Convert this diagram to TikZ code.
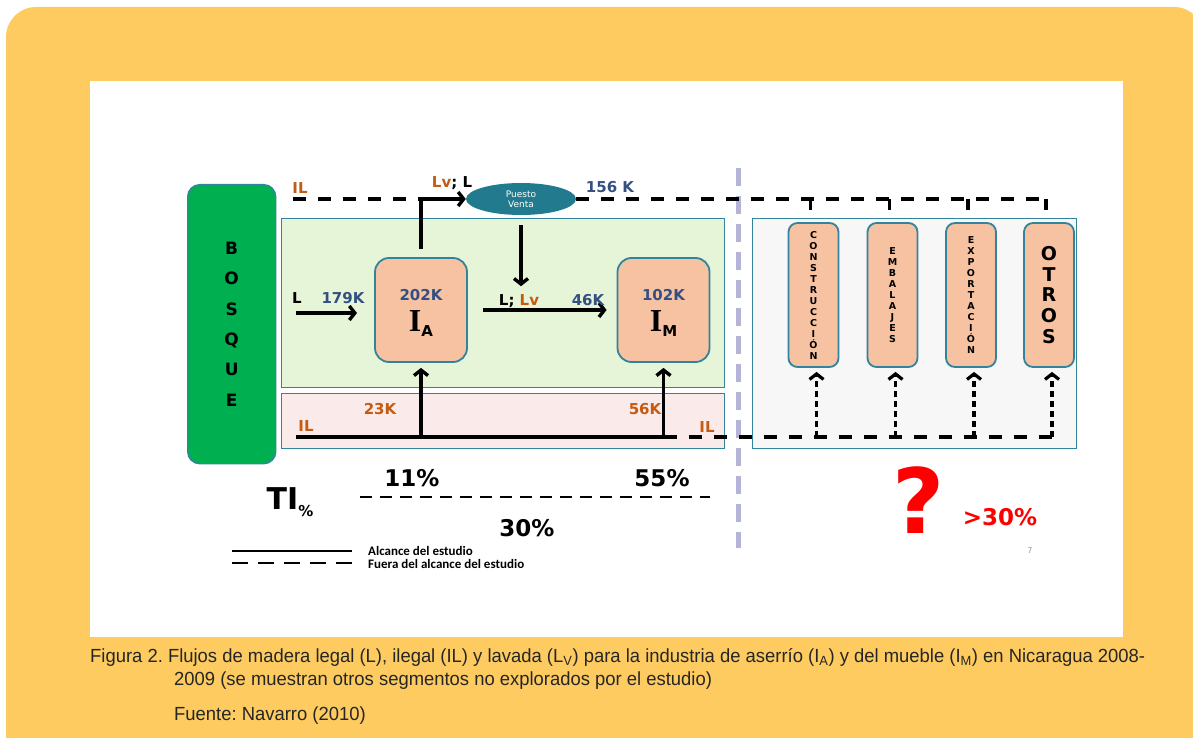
\documentclass[tikz,border=0pt]{standalone}
\usepackage{fontspec}
\setmainfont{DejaVu Sans}
\newfontfamily\serifbf{Liberation Serif}
\newfontfamily\legendfont{Carlito}
\newfontfamily\capfont[FakeStretch=0.97]{Liberation Sans}
\usetikzlibrary{arrows.meta, positioning, shapes.geometric}
\frenchspacing

\definecolor{frameyellow}{RGB}{253,203,95}
\definecolor{bosquegreen}{RGB}{0,176,80}
\definecolor{panelgreen}{RGB}{230,244,216}
\definecolor{panelpink}{RGB}{251,234,234}
\definecolor{panelgrey}{RGB}{247,247,247}
\definecolor{tealline}{RGB}{49,132,155}
\definecolor{peach}{RGB}{247,194,162}
\definecolor{ventateal}{RGB}{33,122,142}
\definecolor{numblue}{RGB}{52,80,130}
\definecolor{ilorange}{RGB}{197,90,17}
\definecolor{lavender}{RGB}{180,180,215}

\begin{document}
\begin{tikzpicture}[
    x=1pt, y=-1pt,
    >={Straight Barb[length=5.5pt, width=14pt]},
    font=\bfseries\fontsize{15}{18}\selectfont,
    panel/.style    ={draw=tealline, line width=1.4pt, anchor=north west, inner sep=0pt},
    industry/.style ={draw=tealline, line width=1.8pt, fill=peach, rounded corners=14pt,
                      minimum width=92pt, minimum height=104pt, inner sep=0pt},
    segment/.style  ={industry, minimum width=50pt, minimum height=144pt, align=center,
                      rounded corners=9pt, font=\bfseries\fontsize{9.5}{11}\selectfont},
    num/.style      ={text=numblue, inner sep=0pt},
    il/.style       ={text=ilorange, inner sep=0pt},
    pct/.style      ={inner sep=0pt, font=\bfseries\fontsize{23}{26}\selectfont},
    flow/.style     ={->, line width=3.4pt},
    legal/.style    ={line width=3.4pt},
    outflow/.style  ={line width=3.2pt, dash pattern=on 13pt off 12pt},
    useflow/.style  ={->, line width=3.2pt, dash pattern=on 6pt off 4pt},
    caption/.style  ={anchor=base west, inner sep=0pt, text=black!85,
                      font=\capfont\fontsize{19}{22}\selectfont}
]

% =================== page, frame ===================
\useasboundingbox (0,0) rectangle (1193,738);
\clip (0,0) rectangle (1193,738);
\fill[frameyellow, rounded corners=30pt] (6,7) rectangle (1204,770);
\fill[white] (90,81) rectangle (1123,637);

% =================== panels ===================
\node[panel, fill=panelgreen, minimum width=443pt, minimum height=169pt] (legalp) at (281,218) {};
\node[panel, fill=panelpink, minimum width=443pt, minimum height=55pt] (ilegalp) at (281,393) {};
\node[panel, fill=panelgrey, minimum width=324pt, minimum height=230pt] (otherp) at (752,218) {};

% =================== Bosque (left) ===================
\node[draw=tealline, line width=1.4pt, fill=bosquegreen, rounded corners=12pt, anchor=north west,
      minimum width=88pt, minimum height=279pt, inner sep=0pt, align=center,
      font=\bfseries\fontsize{17}{30.4}\selectfont] (bosque) at (187,184)
    {B\\O\\S\\Q\\U\\E};

% =================== industries ===================
\node[industry] (ia) at (421,310) {};
\node[num] (ianum) at (421,295) {202K};
\node[inner sep=0pt] (ialbl) at (421,324)
    {{\serifbf\fontsize{32}{32}\selectfont I}\raisebox{-5pt}{A}};

\node[industry] (im) at (663.5,310) {};
\node[num] (imnum) at (663.5,295) {102K};
\node[inner sep=0pt] (imlbl) at (663.5,324)
    {{\serifbf\fontsize{32}{32}\selectfont I}\raisebox{-5pt}{M}};

\node[ellipse, fill=ventateal, minimum width=110pt, minimum height=32pt, inner sep=0pt,
      text=white, align=center, font=\fontsize{9}{10}\selectfont] (venta) at (521,199)
    {Puesto\\Venta};

% =================== other segments (right) ===================
\node[segment] (constr) at (813.5,295) {C\\O\\N\\S\\T\\R\\U\\C\\C\\I\\Ó\\N};
\node[segment] (embal) at (892.5,295) {E\\M\\B\\A\\L\\A\\J\\E\\S};
\node[segment] (export) at (971,295) {E\\X\\P\\O\\R\\T\\A\\C\\I\\Ó\\N};
\node[segment, font=\bfseries\fontsize{19}{20.8}\selectfont] (otros) at (1049,295) {O\\T\\R\\O\\S};

% =================== divider ===================
\draw[lavender, line width=5pt, dash pattern=on 18pt off 10pt] (738,168) -- (738,548);

% --- flows ---
\coordinate (iltop) at (293,199);
\coordinate (lin) at (296,313);
\coordinate (ilbase) at (296,437);

% top: illegal + laundered to puesto de venta
\draw[outflow] (iltop) -- (iltop -| ia.north);
\draw[flow] ([yshift=8pt]ia.north) |- (venta.west);
\draw[outflow] (venta.east) -- (venta.east -| otros.north);
\foreach \s in {constr, embal, export, otros}
  \draw[legal] ([xshift=-3pt]venta.east -| \s.north) -- ++(0,11);
\draw[flow] ([yshift=-10pt]venta.south) -- ++(0,61);

% legal flows
\draw[flow] (lin) -- ++(61,0);
\draw[flow] ([xshift=15pt]ia.east) -- ([xshift=-10pt]im.west);

% bottom: illegal
\draw[legal] (ilbase) -- (ilbase -| im.south);
\draw[flow] (ilbase -| ia.south) -- ([yshift=-5pt]ia.south);
\draw[flow] (ilbase -| im.south) -- ([yshift=-5pt]im.south);
\draw[outflow] (ilbase -| im.south) -- ([xshift=3pt]ilbase -| otros.south);
\foreach \s in {constr, embal, export, otros}
  \draw[useflow] ([xshift=3pt]ilbase -| \s.south) -- ([xshift=3pt, yshift=-4pt]\s.south);

% --- flow labels ---
\node[il] (iltoplbl) at (300,188) {IL};
\node[inner sep=0pt] (lvtop) at (452,183) {\textcolor{ilorange}{Lv}; L};
\node[num] (ventanum) at (610,187) {156 K};
\node[inner sep=0pt] (linlbl) at (297,298) {L};
\node[num] (linnum) at (343,298) {179K};
\node[inner sep=0pt] (llvlbl) at (519,301) {L; \textcolor{ilorange}{Lv}};
\node[num] (llvnum) at (588,300) {46K};
\node[il] (ilbotlbl) at (306,426) {IL};
\node[il] (ianumil) at (380,409) {23K};
\node[il] (imnumil) at (645,409) {56K};
\node[il] (iloutlbl) at (707,427) {IL};

% =================== TI% ===================
\node[inner sep=0pt, font=\bfseries\fontsize{30}{30}\selectfont] (ti) at (290,502)
    {TI\raisebox{-7pt}{\fontsize{15}{15}\selectfont\%}};
\coordinate (tileft) at (360,497);
\coordinate (tiright) at (710,497);
\draw[line width=2.2pt, dash pattern=on 12pt off 8pt] (tileft) -- (tiright);
\node[pct] (tia) at (412,478) {11\%};
\node[pct] (tim) at (662,478) {55\%};
\node[pct] (titot) at (527,528) {30\%};

\node[text=red, inner sep=0pt, font=\bfseries\fontsize{90}{90}\selectfont] (quest) at (919,500) {?};
\node[pct, text=red] (tiother) at (1000,517) {>30\%};
\node[text=black!40, font=\fontsize{8}{8}\selectfont, inner sep=0pt] (pagenum) at (1030,551) {7};

% =================== legend ===================
\coordinate (lgA) at (232,551);
\coordinate (lgB) at (232,563);
\draw[line width=2.2pt] (lgA) -- ++(120,0);
\draw[line width=2.2pt, dash pattern=on 16pt off 10pt] (lgB) -- ++(120,0);
\node[anchor=west, inner sep=0pt, font=\legendfont\bfseries\fontsize{13}{13}\selectfont] (lgAtxt) at (368,551)
    {Alcance del estudio};
\node[anchor=west, inner sep=0pt, font=\legendfont\bfseries\fontsize{13}{13}\selectfont] (lgBtxt) at (368,564)
    {Fuera del alcance del estudio};

% =================== caption ===================
\node[caption] (cap1) at (90,662)
    {Figura 2. Flujos de madera legal (L), ilegal (IL) y lavada (L\textsubscript{V}) para la industria de aserrío (I\textsubscript{A}) y del mueble (I\textsubscript{M}) en Nicaragua 2008-};
\node[caption] (cap2) at (174,685)
    {2009 (se muestran otros segmentos no explorados por el estudio)};
\node[caption] (cap3) at (174,720)
    {Fuente: Navarro (2010)};

\end{tikzpicture}
\end{document}
